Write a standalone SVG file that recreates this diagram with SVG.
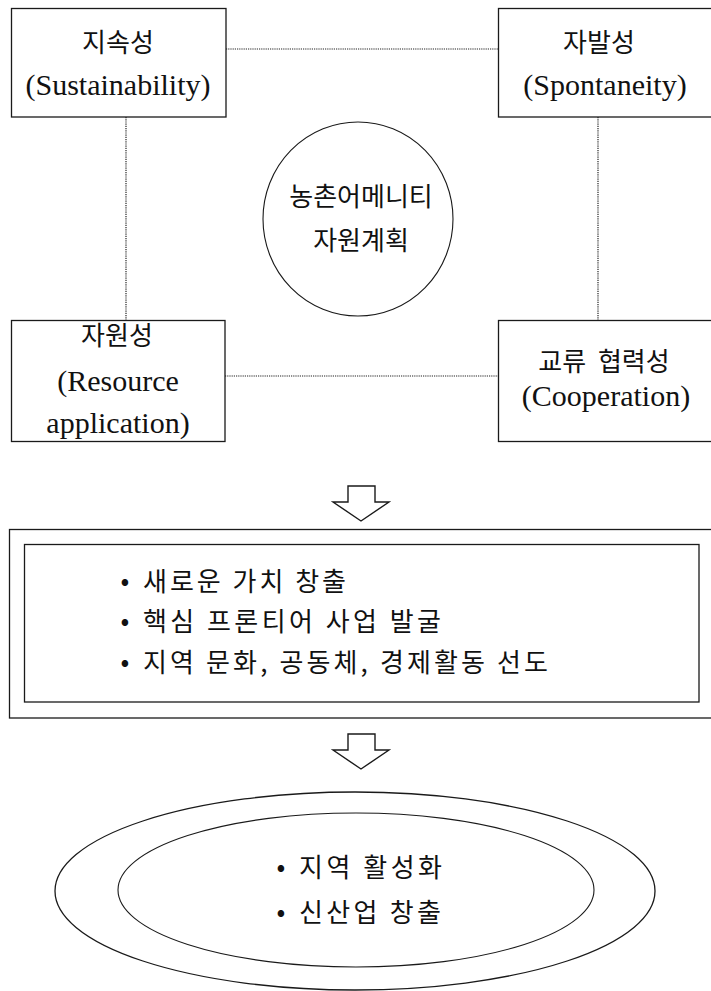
<svg xmlns="http://www.w3.org/2000/svg" width="711" height="991" viewBox="0 0 711 991">
<style>
.box{fill:#fff;stroke:#1a1a1a;stroke-width:1.3}
.thin{fill:none;stroke:#1a1a1a;stroke-width:1.1}
.dot{fill:none;stroke:#222;stroke-width:1.2;stroke-dasharray:1.2 1}
.arrow{fill:#fff;stroke:#1a1a1a;stroke-width:1.4;stroke-linejoin:miter}
.ko{font-family:"Noto Sans CJK KR","Noto Sans",sans-serif;font-size:26px;fill:#111}
.en{font-family:"Liberation Serif","DejaVu Serif",serif;font-size:30px;fill:#111}
.mid{text-anchor:middle}
</style>
<rect width="711" height="991" fill="#fff"/>
<g id="connectors">
<line class="dot" x1="226" y1="49" x2="498" y2="49"/>
<line class="dot" x1="126" y1="117" x2="126" y2="320"/>
<line class="dot" x1="598" y1="117" x2="598" y2="320"/>
<line class="dot" x1="225" y1="376" x2="498" y2="376"/>
</g>
<g id="sustainability">
<rect class="box" x="11.5" y="8.5" width="214.5" height="108.5"/>
<text class="ko mid" x="118" y="52">지속성</text>
<text class="en mid" x="118" y="95">(Sustainability)</text>
</g>
<g id="spontaneity">
<rect class="box" x="498.5" y="8.5" width="215" height="108.5"/>
<text class="ko mid" x="599" y="52">자발성</text>
<text class="en mid" x="605" y="95">(Spontaneity)</text>
</g>
<g id="center">
<ellipse class="thin" cx="358" cy="219" rx="95" ry="97"/>
<text class="ko mid" x="361" y="206">농촌어메니티</text>
<text class="ko mid" x="361" y="250">자원계획</text>
</g>
<g id="resource">
<rect class="box" x="11.5" y="320.5" width="213.5" height="121"/>
<text class="ko mid" x="117" y="345">자원성</text>
<text class="en mid" x="118" y="391">(Resource</text>
<text class="en mid" x="118" y="433">application)</text>
</g>
<g id="cooperation">
<rect class="box" x="498.5" y="320.5" width="215" height="121"/>
<text class="ko mid" x="604" y="371" style="word-spacing:6px">교류 협력성</text>
<text class="en mid" x="606" y="406">(Cooperation)</text>
</g>
<g id="arrow1">
<path class="arrow" d="M348,486 L375,486 L375,502 L389,502 L361,521 L333,502 L348,502 Z"/>
</g>
<g id="outcomes">
<rect class="box" x="9.5" y="529.5" width="705" height="188.5"/>
<rect class="box" x="24.5" y="544.5" width="674.5" height="157.5"/>
<text class="ko mid" x="125" y="590">•</text>
<text class="ko" x="143" y="591" textLength="203" lengthAdjust="spacing">새로운 가치 창출</text>
<text class="ko mid" x="125" y="630">•</text>
<text class="ko" x="143" y="631" textLength="298" lengthAdjust="spacing">핵심 프론티어 사업 발굴</text>
<text class="ko mid" x="125" y="671">•</text>
<text class="ko" x="143" y="672" textLength="405" lengthAdjust="spacing">지역 문화, 공동체, 경제활동 선도</text>
</g>
<g id="arrow2">
<path class="arrow" d="M348,734 L375,734 L375,750 L389,750 L361,769 L333,750 L348,750 Z"/>
</g>
<g id="result">
<ellipse class="box" cx="355" cy="891" rx="300" ry="99"/>
<ellipse class="thin" cx="356" cy="890" rx="238" ry="77"/>
<text class="ko mid" x="281" y="876">•</text>
<text class="ko" x="299" y="877" textLength="143" lengthAdjust="spacing">지역 활성화</text>
<text class="ko mid" x="281" y="921">•</text>
<text class="ko" x="299" y="922" textLength="142" lengthAdjust="spacing">신산업 창출</text>
</g>
</svg>
